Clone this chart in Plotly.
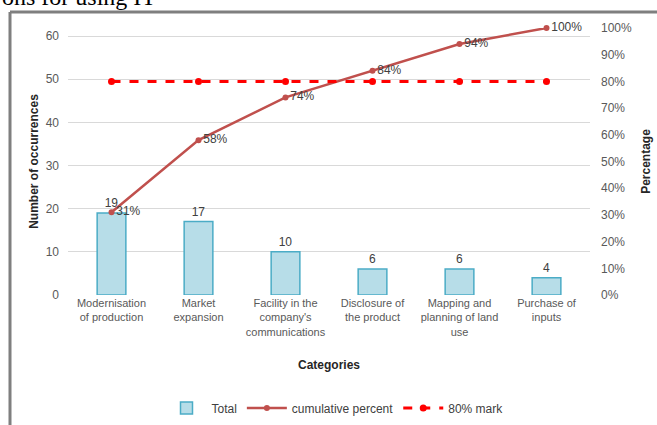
import plotly.graph_objects as go

categories = ["Modernisation<br>of production", "Market<br>expansion",
              "Facility in the<br>company's<br>communications",
              "Disclosure of<br>the product", "Mapping and<br>planning of land<br>use",
              "Purchase of<br>inputs"]
totals = [19, 17, 10, 6, 6, 4]
cumulative = [0.31, 0.58, 0.74, 0.84, 0.94, 1.00]
cum_labels = ["31%", "58%", "74%", "84%", "94%", "100%"]
mark80 = [0.80, 0.80, 0.80, 0.80, 0.80, 0.80]
left_ticks = [0, 10, 20, 30, 40, 50, 60]

# layout helpers (pixel geometry)
W, H = 657, 425
PL, PR, PT, PB = 68, 590, 28, 295
def px(x):
    return (x - PL) / (PR - PL)
def py(y):
    return (PB - y) / (PB - PT)

FONT = "Liberation Sans, Arial, sans-serif"
fig = go.Figure()
fig.add_trace(go.Bar(
    x=categories, y=totals, name="Total", width=0.33,
    marker=dict(color="#b7dde8", line=dict(color="#4bacc6", width=1.5)),
    text=[str(v) for v in totals], textposition="outside",
    textfont=dict(color="#404040", size=12, family=FONT),
    cliponaxis=False, yaxis="y"))
fig.add_trace(go.Scatter(
    x=categories, y=cumulative, name="cumulative percent", mode="lines+markers+text",
    line=dict(color="#c0504d", width=2.5), marker=dict(color="#c0504d", size=6),
    text=cum_labels, textposition="middle right",
    textfont=dict(color="#404040", size=12, family=FONT),
    cliponaxis=False, yaxis="y2"))
fig.add_trace(go.Scatter(
    x=categories, y=mark80, name="80% mark", mode="lines+markers",
    line=dict(color="#ff0000", width=3, dash="dash"), marker=dict(color="#ff0000", size=7),
    cliponaxis=False, yaxis="y2"))

fig.update_layout(
    width=W, height=H, autosize=False,
    margin=dict(l=PL, r=W - PR, t=PT, b=H - PB, autoexpand=False),
    paper_bgcolor="white", plot_bgcolor="white",
    font=dict(family=FONT, color="#595959", size=12),
    bargap=0.67,
    showlegend=True,
    legend=dict(orientation="h", x=335 / W, xanchor="center", y=1 - 408 / H, yanchor="middle",
                xref="container", yref="container",
                font=dict(size=12, color="#404040"), traceorder="normal", itemwidth=40),
    xaxis=dict(showgrid=False, showline=False, ticks="", automargin=False,
               tickfont=dict(size=11, color="#595959"),
               title=dict(text="<b>Categories</b>", font=dict(size=12, color="#262626"), standoff=24)),
    yaxis=dict(range=[0, 60 * (PB - PT) / (PB - 36)], tickvals=left_ticks, automargin=False,
               showgrid=True, gridcolor="#d9d9d9", gridwidth=1, zeroline=False, showline=False,
               tickfont=dict(size=12, color="#595959"), ticklabelstandoff=8,
               title=dict(text="<b>Number of occurrences</b>", font=dict(size=12, color="#262626"), standoff=4)),
    yaxis2=dict(range=[0, 1], overlaying="y", side="right", tickformat=".0%", dtick=0.1,
                showgrid=False, zeroline=False, showline=False, automargin=False,
                tickfont=dict(size=12, color="#595959"), ticklabelstandoff=10,
                title=dict(text="<b>Percentage</b>", font=dict(size=12, color="#262626"), standoff=10)),
    shapes=[
        dict(type="line", xref="paper", yref="paper", x0=px(10), x1=px(10), y0=py(12), y1=py(440),
             line=dict(color="#7f7f7f", width=3)),
        dict(type="line", xref="paper", yref="paper", x0=px(10), x1=px(670), y0=py(12), y1=py(12),
             line=dict(color="#7f7f7f", width=3)),
    ],
    annotations=[
        dict(text="ons for using IT", xref="paper", yref="paper", x=px(0), y=py(12),
             xanchor="left", yanchor="bottom", showarrow=False,
             font=dict(family="Liberation Serif, Times New Roman, serif", size=24, color="black")),
    ],
)

fig.write_html("out.html")
